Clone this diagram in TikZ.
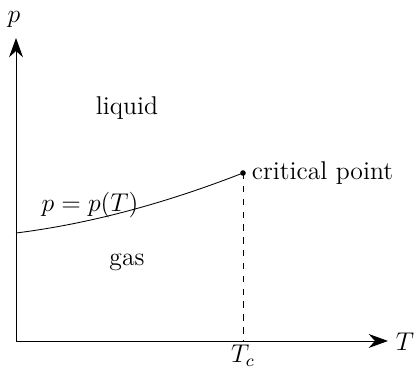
\documentclass[12pt,tikz,border=0pt]{standalone}
\usetikzlibrary{arrows.meta}
\begin{document}
\begin{tikzpicture}[>={Stealth[length=9pt,width=6.5pt]}]
  \useasboundingbox (0,0) rectangle (6.864,6.092);
  \coordinate (O) at (0.263,0.493);
  \coordinate (P) at (0.263,5.468);
  \coordinate (T) at (6.371,0.493);
  \coordinate (S) at (0.263,2.266);
  \coordinate (C) at (3.99,3.251);
  \coordinate (D) at (3.99,0.493);
  \draw[->] (O) -- (P);
  \draw[->] (O) -- (T);
  \draw (S) .. controls (1.576,2.430) and (2.841,2.803) .. (C);
  \draw[dashed] (C) -- (D);
  \fill (C) circle (1.3pt);
  \node (plab) at (0.23,5.78) {$p$};
  \node (Tlab) at (6.65,0.476) {$T$};
  \node (Tc) at (3.99,0.25) {$T_c$};
  \node[right] (crit) at (C) {critical point};
  \node (liquid) at (2.085,4.319) {liquid};
  \node (gas) at (2.085,1.79) {gas};
  \node (curve) at (1.478,2.726) {$p=p(T)$};
\end{tikzpicture}
\end{document}
